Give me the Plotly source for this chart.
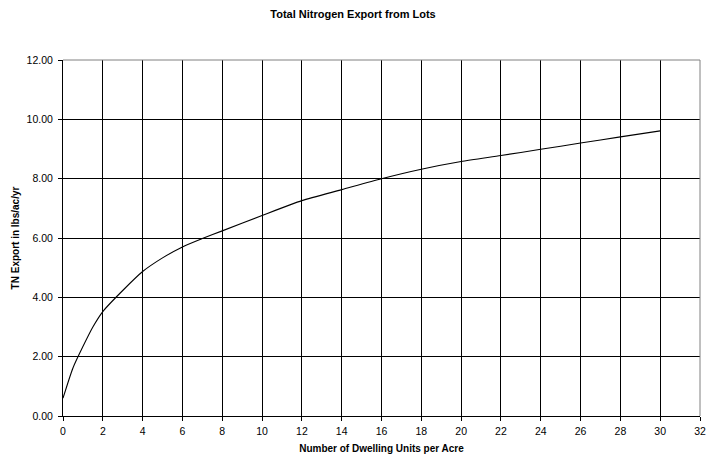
import plotly.graph_objects as go

dwelling_units = [0, 0.5, 1, 1.5, 2, 3, 4, 5, 6, 7, 8, 10, 12, 14, 16, 18, 20, 22, 24, 26, 28, 30]
tn_export = [0.60, 1.62, 2.34, 3.00, 3.52, 4.23, 4.87, 5.33, 5.70, 5.98, 6.24, 6.76, 7.26, 7.63, 8.00, 8.32, 8.58, 8.78, 8.99, 9.20, 9.41, 9.61]

x_ticks = list(range(0, 33, 2))
y_ticks = [0, 2, 4, 6, 8, 10, 12]

FONT = "Liberation Sans, Arial, sans-serif"

W, H = 707, 462

fig = go.Figure()
fig.add_trace(go.Scatter(
    x=dwelling_units, y=tn_export, mode="lines",
    line=dict(color="black", width=1.1, shape="spline", smoothing=0.6),
    showlegend=False, hoverinfo="x+y",
))

fig.update_layout(
    width=W, height=H,
    margin=dict(l=63, r=7, t=60, b=46),
    paper_bgcolor="white", plot_bgcolor="white",
    font=dict(family=FONT, size=10, color="black"),
    title=dict(text="<b>Total Nitrogen Export from Lots</b>", x=353 / W, xanchor="center",
               y=1 - 14 / H, yanchor="middle", yref="container",
               font=dict(family=FONT, size=11, color="black")),
    xaxis=dict(
        range=[0, 32], tickvals=x_ticks, ticktext=[str(v) for v in x_ticks],
        showgrid=True, gridcolor="black", gridwidth=1,
        showline=True, linecolor="black", linewidth=1,
        ticks="outside", ticklen=4, tickcolor="black",
        zeroline=False, automargin=False, ticklabelstandoff=1,
        title=dict(text="<b>Number of Dwelling Units per Acre</b>", standoff=9,
                   font=dict(family=FONT, size=10)),
        tickfont=dict(family=FONT, size=10.5),
    ),
    yaxis=dict(
        range=[0, 12], tickvals=y_ticks, ticktext=[f"{v:.2f}" for v in y_ticks],
        showgrid=True, gridcolor="black", gridwidth=1,
        showline=True, linecolor="black", linewidth=1,
        ticks="outside", ticklen=4, tickcolor="black",
        zeroline=False, automargin=False, ticklabelstandoff=3,
        title=dict(text="<b>TN Export in lbs/ac/yr</b>", standoff=5,
                   font=dict(family=FONT, size=10)),
        tickfont=dict(family=FONT, size=10.5),
    ),
    shapes=[
        dict(type="line", xref="paper", yref="paper", x0=0, x1=1, y0=1, y1=1,
             line=dict(color="#808080", width=1), layer="above"),
        dict(type="line", xref="paper", yref="paper", x0=1, x1=1, y0=0, y1=1,
             line=dict(color="#808080", width=1), layer="above"),
    ],
)

# remove the browser's default 8px page margin so the figure fills the window exactly
fig.write_html("out.html", config={"displayModeBar": False},
               post_script="document.body.style.margin='0px';")
